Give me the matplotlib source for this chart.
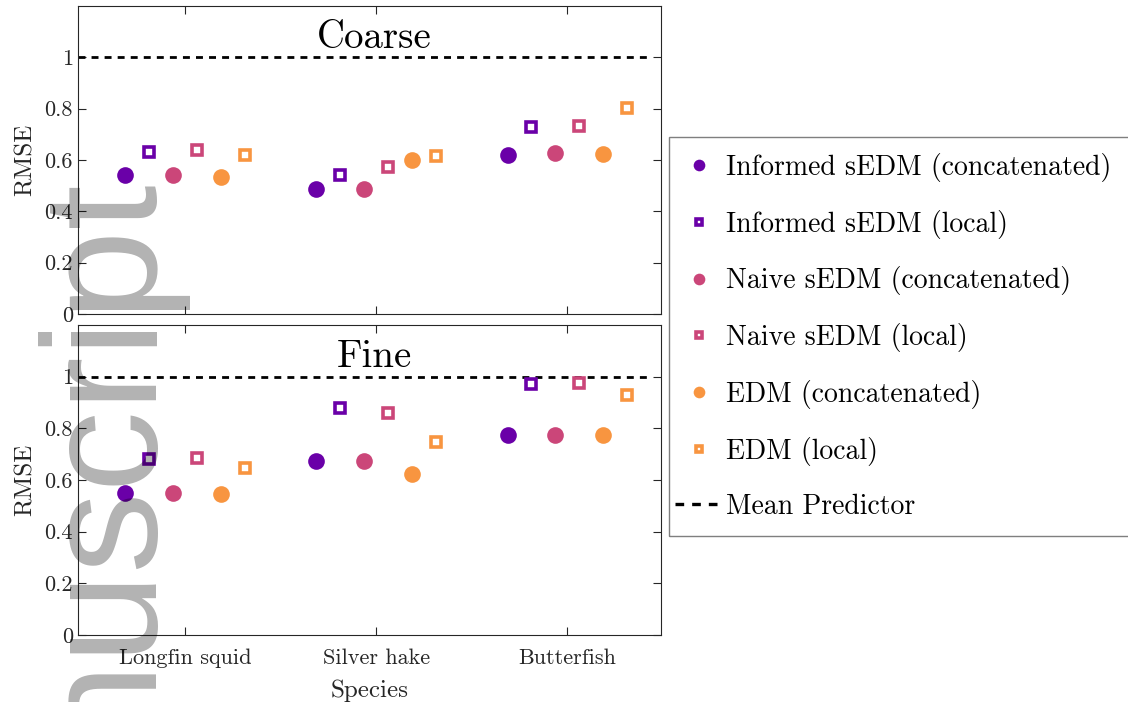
import numpy as np
import matplotlib
matplotlib.use('Agg')
import matplotlib.pyplot as plt
from matplotlib.patches import Rectangle
from matplotlib.lines import Line2D

plt.rcParams['font.family'] = 'serif'
plt.rcParams['font.serif'] = ['cmr10']
plt.rcParams['axes.formatter.use_mathtext'] = True

species = ['Longfin squid', 'Silver hake', 'Butterfish']
methods = ['Informed sEDM (concatenated)', 'Informed sEDM (local)',
           'Naive sEDM (concatenated)', 'Naive sEDM (local)',
           'EDM (concatenated)', 'EDM (local)']
colors = ['#6a00a8', '#6a00a8', '#cb4679', '#cb4679', '#f89540', '#f89540']
markers = ['o', 's', 'o', 's', 'o', 's']

# RMSE per method (rows) and species (columns)
coarse_rmse = [
    [0.542, 0.486, 0.619],
    [0.630, 0.540, 0.728],
    [0.542, 0.486, 0.628],
    [0.638, 0.573, 0.732],
    [0.532, 0.602, 0.625],
    [0.621, 0.616, 0.804],
]
fine_rmse = [
    [0.550, 0.674, 0.775],
    [0.682, 0.879, 0.972],
    [0.551, 0.674, 0.776],
    [0.687, 0.860, 0.977],
    [0.547, 0.622, 0.776],
    [0.646, 0.748, 0.929],
]
yticks = [0, 0.2, 0.4, 0.6, 0.8, 1]
ytick_labels = ['0', '0.2', '0.4', '0.6', '0.8', '1']

fig = plt.figure(figsize=(11.28, 7.02), dpi=100)
ax_top = fig.add_axes([0.0691, 0.5527, 0.5169, 0.4387])
ax_bot = fig.add_axes([0.0691, 0.0954, 0.5169, 0.4416])

xpos = np.arange(1, len(species) + 1)
offsets = (np.arange(len(methods)) - 2.5) * 0.125


def draw_panel(ax, data, title):
    for i, m in enumerate(methods):
        x = xpos + offsets[i]
        if markers[i] == 'o':
            ax.plot(x, data[i], 'o', color=colors[i], ms=12, mec='none', label=m, zorder=3)
        else:
            ax.plot(x, data[i], 's', color=colors[i], ms=7, mfc='white', mec=colors[i],
                    mew=2.6, label=m, zorder=3)
    ax.axhline(1, xmax=0.98, color='black', lw=2.0, ls=(0, (2.5, 2.2)), zorder=2)
    ax.set_xlim(0.44, 3.49)
    ax.set_ylim(0, 1.2)
    ax.set_yticks(yticks)
    ax.set_yticklabels(ytick_labels)
    ax.set_xticks(xpos)
    ax.tick_params(direction='in', length=6, top=True, right=True, labelsize=16,
                   labelcolor='#262626', color='#262626')
    ax.tick_params(axis='x', pad=10)
    ax.set_ylabel('RMSE', fontsize=18, color='#262626', labelpad=6)
    for s in ax.spines.values():
        s.set_color('#262626')
    ax.text(0.508, 0.895, title, transform=ax.transAxes, ha='center', va='center',
            fontsize=28)


draw_panel(ax_top, coarse_rmse, 'Coarse')
draw_panel(ax_bot, fine_rmse, 'Fine')
ax_top.set_xticklabels([])
ax_bot.set_xticklabels(species)
ax_bot.set_xlabel('Species', fontsize=18, color='#262626', labelpad=8)

# legend frame drawn separately so it can run off the right edge
fig.patches.append(Rectangle((669 / 1128, 1 - 536 / 702), 0.5, (536 - 137) / 702,
                             transform=fig.transFigure, fill=False,
                             edgecolor='#7f7f7f', lw=1.0))
handles, labels = ax_top.get_legend_handles_labels()
handles.append(Line2D([], [], color='black', lw=2.4, ls=(0, (2.6, 2.4))))
labels.append('Mean Predictor')
leg = fig.legend(handles, labels, loc='center left', bbox_to_anchor=(675 / 1128, 0.521),
                 fontsize=20, markerscale=0.7, labelspacing=1.0, handlelength=1.7,
                 handletextpad=0.15, borderpad=0, borderaxespad=0, frameon=False)

# watermark running up the left edge
fig.text(0.127, 0.758, 'Manuscript', rotation=90, rotation_mode='anchor',
         ha='right', va='baseline', fontsize=117, family='Liberation Sans',
         color='black', alpha=0.3, zorder=10)

fig.savefig('out.png', dpi=100)
